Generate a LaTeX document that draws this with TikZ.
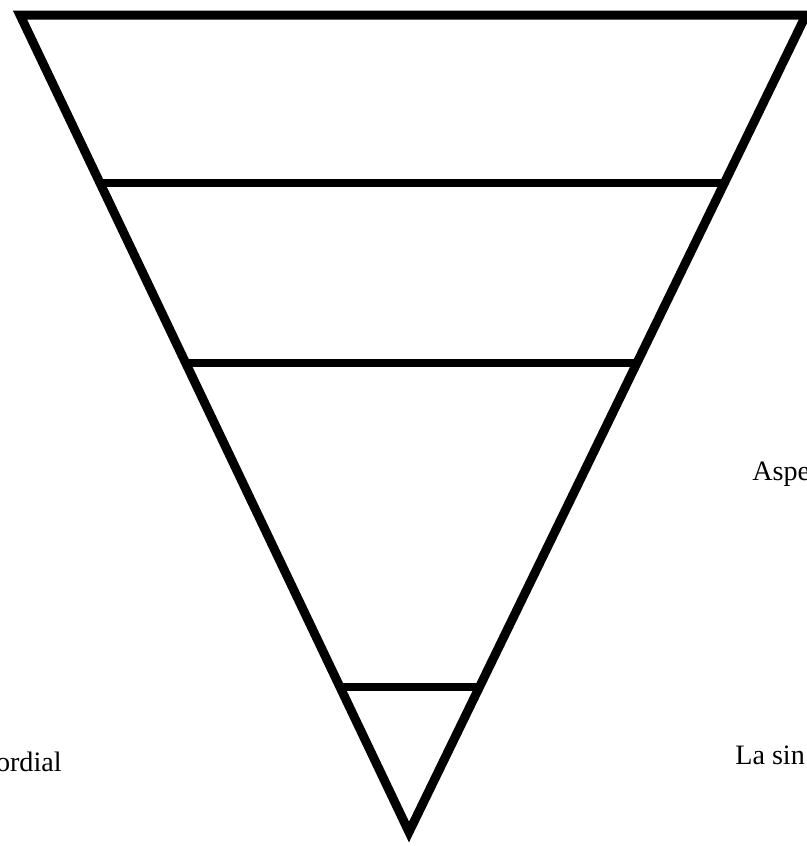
\documentclass[tikz,border=0pt]{standalone}
\usepackage{fontspec}
\setmainfont{Liberation Serif}
\usetikzlibrary{calc}
\tikzset{
  rim/.style={line width=0.18cm},
  band/.style={line width=0.17cm},
  lbl/.style={font=\fontsize{16}{19}\selectfont, inner sep=0pt},
}

\begin{document}
\begin{tikzpicture}[x=0.02cm, y=-0.02cm]
\useasboundingbox (0,0) rectangle (807,846);
\clip (0,0) rectangle (807,846);

% outline of the pyramid
\coordinate (tl) at (20,15);
\coordinate (tr) at (806,15);
\coordinate (apex) at (409,832);
\draw[rim] (tl) -- (tr) -- (apex) -- cycle;

% tiers
\foreach \f in {0.2056,0.4259,0.8225}
  \draw[band] ($(tl)!\f!(apex)$) -- ($(tr)!\f!(apex)$);

% labels at the sides
\node[lbl, anchor=base west] (aspe) at (752,480) {Aspe};
\node[lbl, anchor=base east] (ordial) at (62,771) {ordial};
\node[lbl, anchor=base west] (lasin) at (735,764) {La sin};
\end{tikzpicture}
\end{document}
